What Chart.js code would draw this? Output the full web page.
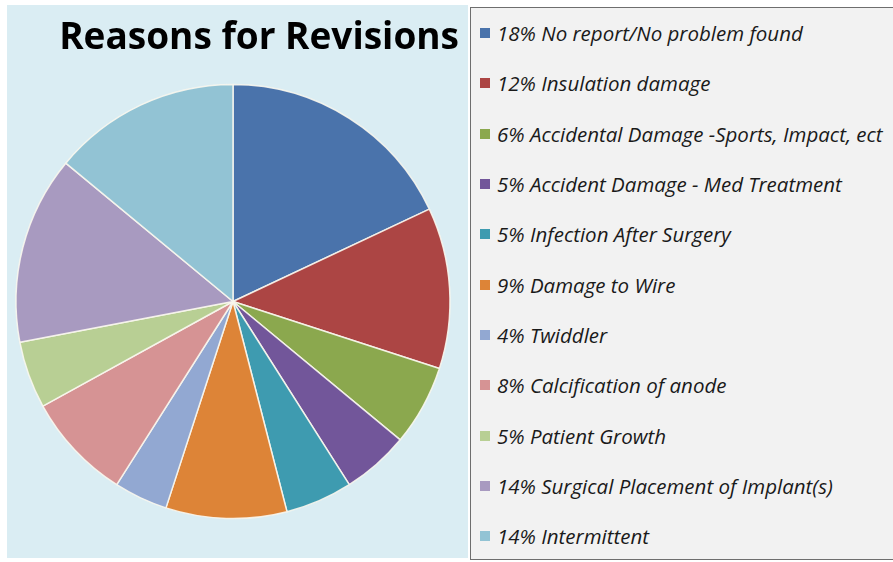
<!DOCTYPE html>
<html>
<head>
<meta charset="utf-8">
<script src="https://cdn.jsdelivr.net/npm/chart.js@4"></script>
<style>
    body {
        margin: 0;
        width: 893px;
        height: 562px;
        background: #ffffff;
        overflow: hidden;
        position: relative;
    }
    #piePanel {
        position: absolute;
        left: 7px;
        top: 5px;
        width: 461px;
        height: 553px;
        background: #daedf3;
    }
    #legendBox {
        position: absolute;
        left: 470px;
        top: 7px;
        width: 440px;
        height: 551px;
        background: #f2f2f2;
        border: 1px solid #6e6e6e;
    }
    #legendBox ul {
        list-style: none;
        margin: 0;
        padding: 0 0 0 9px;
    }
    #legendBox li {
        height: 50.3px;
        display: flex;
        align-items: center;
        font-family: "Open Sans", sans-serif;
        font-style: italic;
        font-size: 20.5px;
        color: #1a1a1a;
        white-space: nowrap;
    }
    #legendBox li span {
        display: inline-block;
        width: 10px;
        height: 10px;
        margin-right: 7px;
    }
</style>
</head>
<body>
<div id="piePanel"><canvas id="revisionChart"></canvas></div>
<div id="legendBox"><ul id="legendList"></ul></div>

<script>
const reasons = [
    'No report/No problem found',
    'Insulation damage',
    'Accidental Damage -Sports, Impact, ect',
    'Accident Damage - Med Treatment',
    'Infection After Surgery',
    'Damage to Wire',
    'Twiddler',
    'Calcification of anode',
    'Patient Growth',
    'Surgical Placement of Implant(s)',
    'Intermittent'
];
const percents = [18, 12, 6, 5, 5, 9, 4, 8, 5, 14, 14];
const sliceColors = [
    '#4a73ab', '#ac4544', '#8ba84e', '#72569a', '#3e9bb0', '#dd8437',
    '#92a8d2', '#d69394', '#b8cf94', '#a89ac0', '#92c3d4'
];

// builds the legend list on the right from the chart's own labels
const htmlLegend = {
    id: 'htmlLegend',
    afterUpdate(chart) {
        const list = document.getElementById('legendList');
        list.innerHTML = '';
        const items = chart.options.plugins.legend.labels.generateLabels(chart);
        items.forEach(item => {
            const li = document.createElement('li');
            const box = document.createElement('span');
            box.style.background = item.fillStyle;
            const text = document.createTextNode(percents[item.index] + '% ' + item.text);
            li.appendChild(box);
            li.appendChild(text);
            list.appendChild(li);
        });
    }
};

const ctx = document.getElementById('revisionChart').getContext('2d');

let revisionChart = new Chart(ctx, {
    type: 'pie',
    data: {
        labels: reasons,
        datasets: [{
            data: percents,
            backgroundColor: sliceColors,
            borderColor: 'rgba(250, 247, 238, 0.9)',
            borderWidth: 1.5,
            radius: 217
        }]
    },
    options: {
        responsive: true,
        maintainAspectRatio: false,
        animation: false,
        layout: {
            padding: { left: 0, right: 9, top: 0, bottom: 15.4 }
        },
        plugins: {
            legend: {
                display: false
            },
            tooltip: {
                enabled: false
            },
            title: {
                display: true,
                text: 'Reasons for Revisions',
                align: 'end',
                color: '#000000',
                font: {
                    family: 'Open Sans',
                    weight: 'bold',
                    size: 37
                },
                padding: { top: 11, bottom: 0 }
            }
        }
    },
    plugins: [htmlLegend]
});
</script>
</body>
</html>
